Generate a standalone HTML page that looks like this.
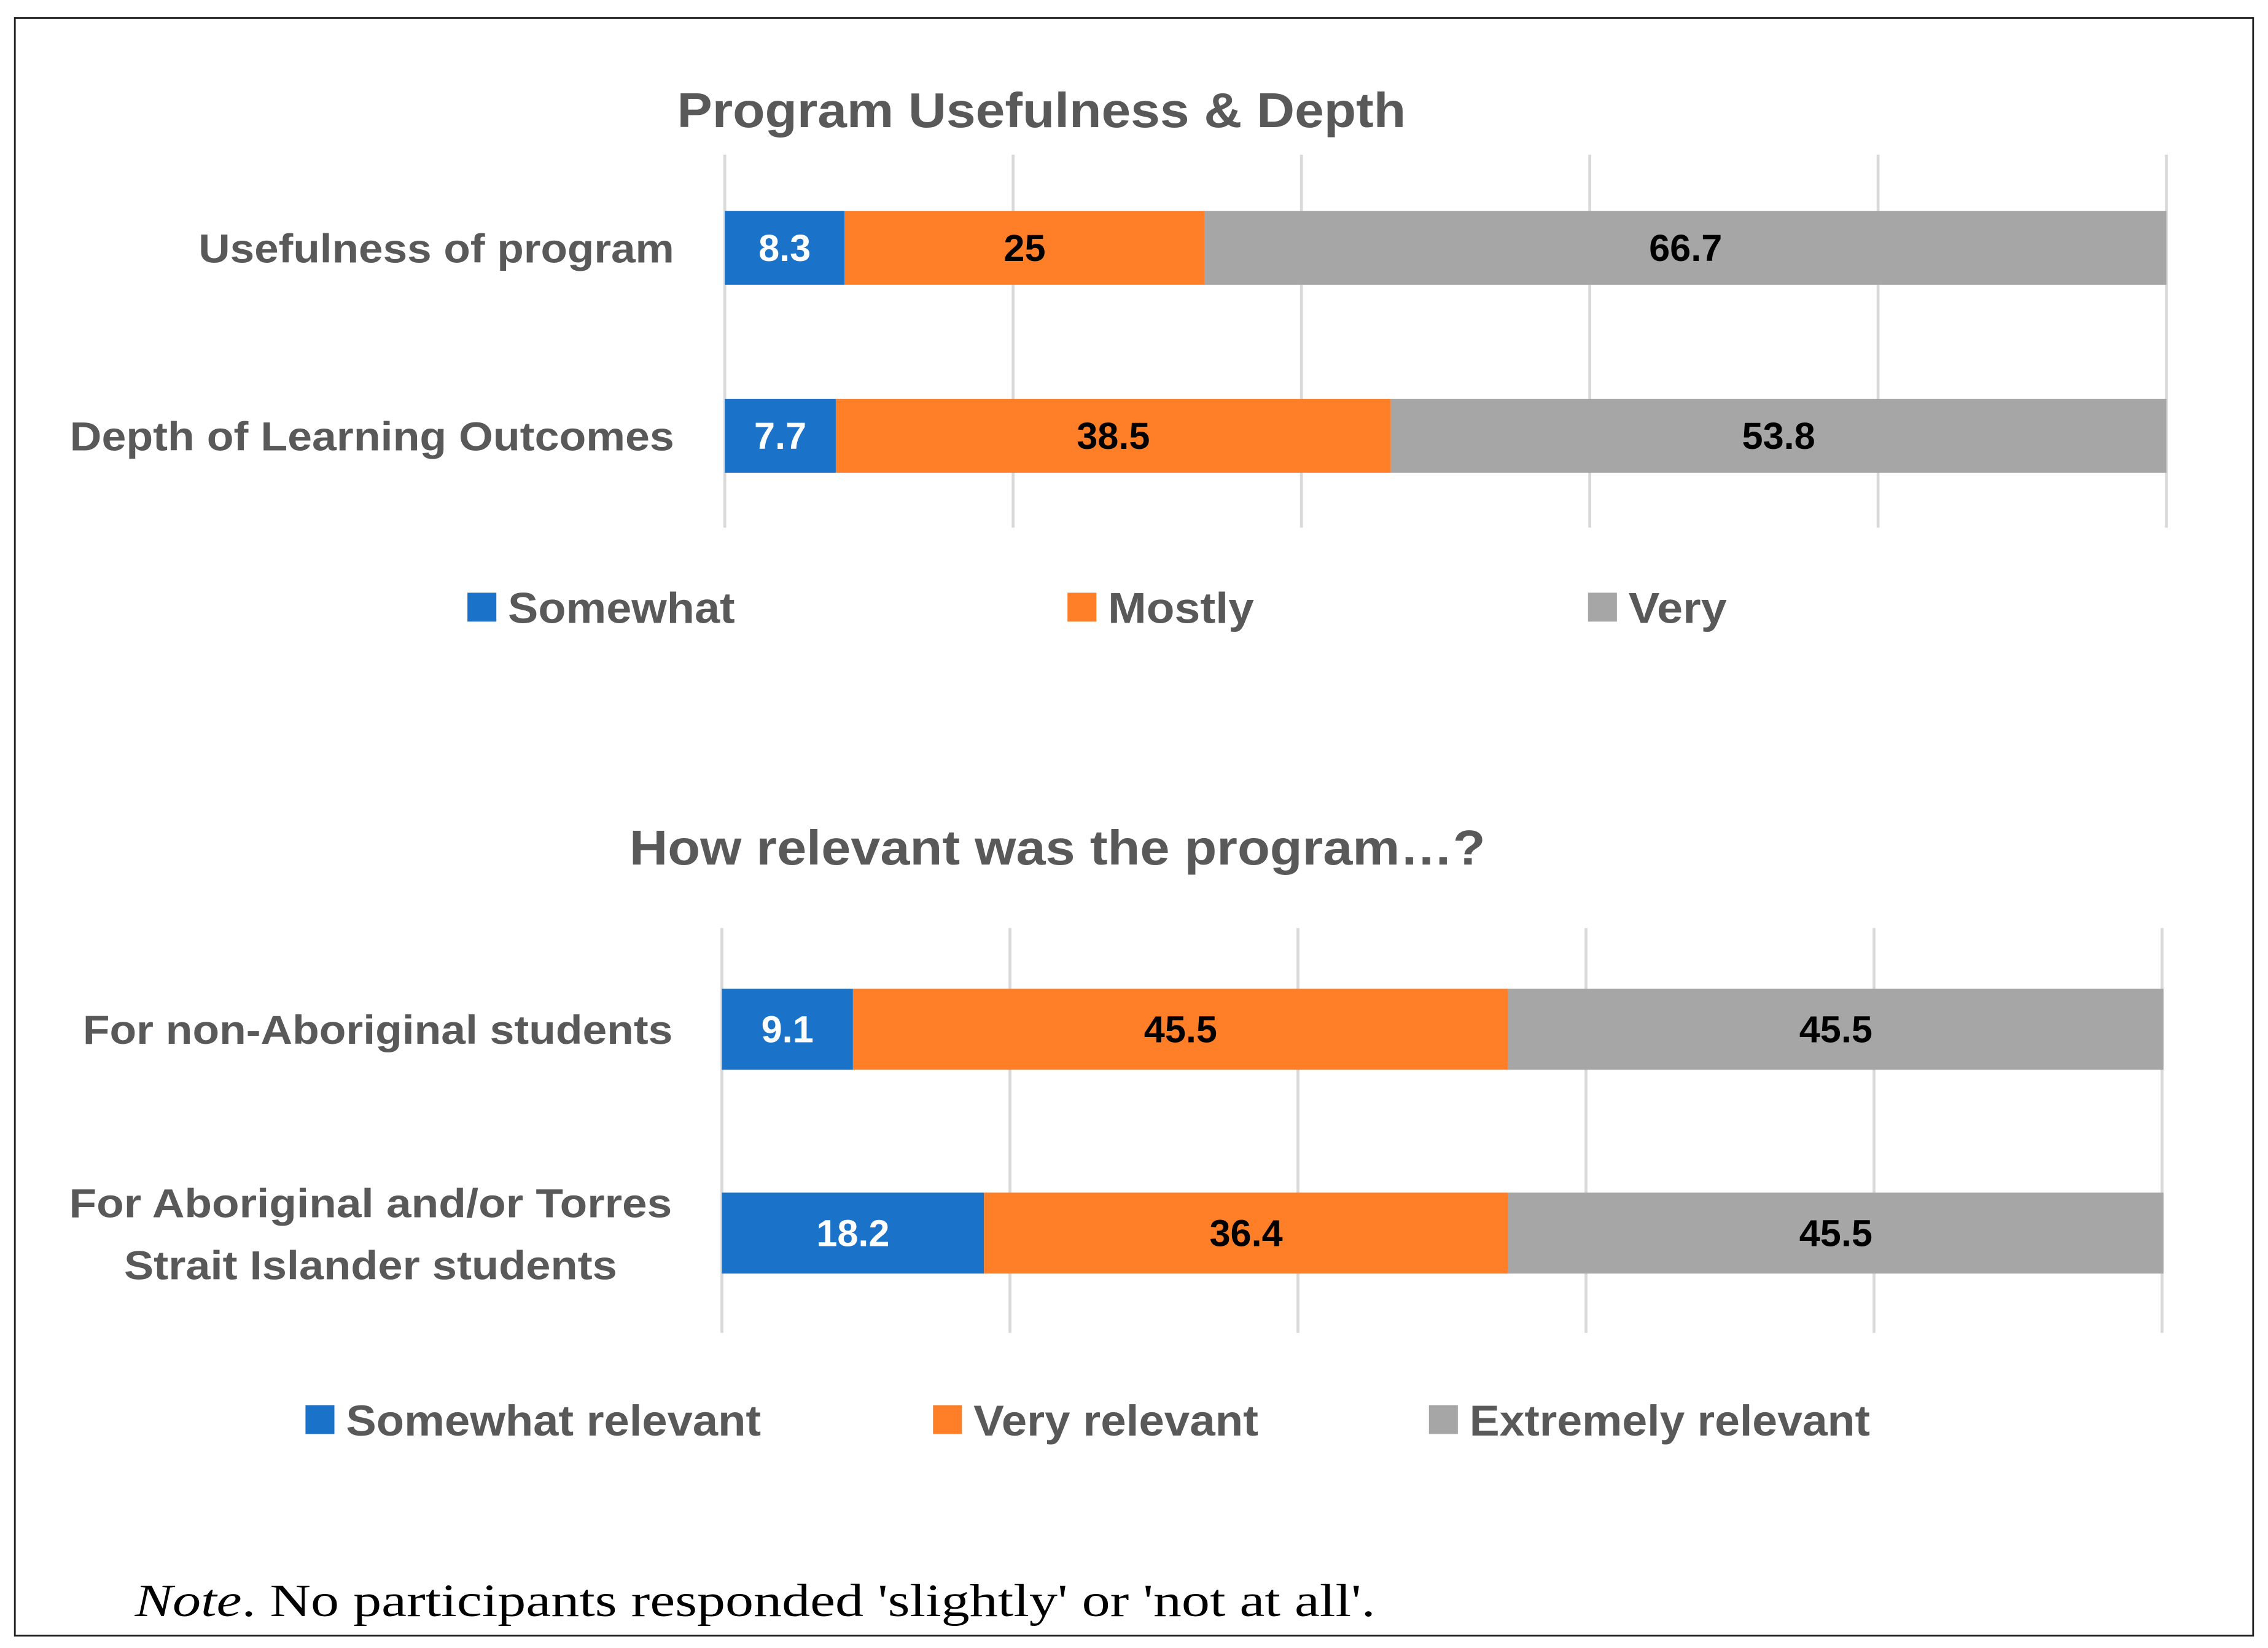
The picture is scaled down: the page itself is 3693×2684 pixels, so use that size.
<!DOCTYPE html>
<html><head><meta charset="utf-8"><style>html,body{margin:0;padding:0;background:#fff}svg{display:block}</style></head>
<body>
<svg id="svg" width="3693" height="2684" viewBox="0 0 1568 1140" xmlns="http://www.w3.org/2000/svg" font-family="Liberation Sans, sans-serif">
<rect x="10" y="12.5" width="1548" height="1119" fill="#fff" stroke="#222" stroke-width="1.2"/>
<text x="720" y="88" text-anchor="middle" font-size="34" font-weight="bold" fill="#595959" textLength="504" lengthAdjust="spacingAndGlyphs">Program Usefulness &amp; Depth</text>
<text x="731" y="598" text-anchor="middle" font-size="34" font-weight="bold" fill="#595959" textLength="592" lengthAdjust="spacingAndGlyphs">How relevant was the program…?</text>
<g id="c1"></g>
<g id="c2"></g>
<text x="93" y="1118" font-family="Liberation Serif, serif" font-size="32" fill="#000" textLength="858" lengthAdjust="spacingAndGlyphs"><tspan font-style="italic">Note</tspan>. No participants responded 'slightly' or 'not at all'.</text>
</svg>
<script>
const NS='http://www.w3.org/2000/svg';
const colors=['#1a73c9','#fe7f27','#a6a6a6'];
const labelColors=['#fff','#000','#000'];

const c1Categories=['Usefulness of program','Depth of Learning Outcomes'];
const c1Somewhat=[8.3,7.7];
const c1Mostly=[25,38.5];
const c1Very=[66.7,53.8];
const c1Legend=['Somewhat','Mostly','Very'];

const c2Categories=[['For non-Aboriginal students'],['For Aboriginal and/or Torres','Strait Islander students']];
const c2Somewhat=[9.1,18.2];
const c2Very=[45.5,36.4];
const c2Extremely=[45.5,45.5];
const c2Legend=['Somewhat relevant','Very relevant','Extremely relevant'];

function mk(tag,attrs,parent){const e=document.createElementNS(NS,tag);for(const k in attrs)e.setAttribute(k,attrs[k]);parent.appendChild(e);return e;}

function draw(g,cfg){
  const x=v=>cfg.x0+(cfg.x1-cfg.x0)*v/100;
  for(let t=0;t<=100;t+=20){
    const l=mk('line',{x1:x(t),x2:x(t),y1:cfg.gy0,y2:cfg.gy1,stroke:'#d9d9d9','stroke-width':2},g);
    
    
  }
  cfg.cats.forEach((cat,i)=>{
    const yTop=cfg.barY[i];
    let acc=0;
    cfg.series.forEach((s,j)=>{
      const v=s[i];
      const r=mk('rect',{x:x(acc),y:yTop,width:x(acc+v)-x(acc),height:cfg.barH,fill:colors[j]},g);
      
      
      const t=mk('text',{x:(x(acc)+x(acc+v))/2,y:yTop+cfg.barH/2+9,'text-anchor':'middle','font-size':26,'font-weight':'bold',fill:labelColors[j]},g);
      t.textContent=String(v);
      
      
      acc+=v;
    });
    const lines=Array.isArray(cat)?cat:[cat];
    lines.forEach((ln,k)=>{
      const multi=lines.length>1;
      const t=mk('text',{x:multi?256:cfg.labelX,y:multi?yTop+cfg.barH/2-1+(k===0?-10:33):yTop+cfg.barH/2+10,'text-anchor':multi?'middle':'end','font-size':28,'font-weight':'bold',fill:'#595959'},g);
      t.textContent=ln;
      const w=cfg.labelW[ln];
      if(w){t.setAttribute('textLength',w);t.setAttribute('lengthAdjust','spacingAndGlyphs');}
      
      
    });
  });
  cfg.legend.forEach((name,j)=>{
    const r=mk('rect',{x:cfg.legX[j],y:cfg.legY-10,width:20,height:20,fill:colors[j]},g);
    
    
    const t=mk('text',{x:cfg.legX[j]+28,y:cfg.legY+11,'font-size':30,'font-weight':'bold',fill:'#595959',textLength:cfg.legW[j],lengthAdjust:'spacingAndGlyphs'},g);
    t.textContent=name;
    
    
  });
}

draw(document.getElementById('c1'),{x0:501,x1:1498,gy0:107,gy1:365,cats:c1Categories,series:[c1Somewhat,c1Mostly,c1Very],barY:[146,276],barH:51,labelX:466,
  labelW:{'Usefulness of program':329,'Depth of Learning Outcomes':418},legend:c1Legend,legX:[323,738,1098],legY:420,legW:[157,101,68]});
draw(document.getElementById('c2'),{x0:499,x1:1495,gy0:642,gy1:922,cats:c2Categories,series:[c2Somewhat,c2Very,c2Extremely],barY:[684,825],barH:56,labelX:465,
  labelW:{'For non-Aboriginal students':408,'For Aboriginal and/or Torres':417,'Strait Islander students':341},legend:c2Legend,legX:[211,645,988],legY:982,legW:[287,197,277]});
</script>
</body></html>
